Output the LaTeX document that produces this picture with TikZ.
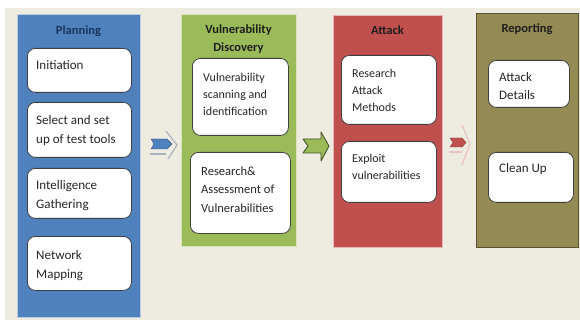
\documentclass[tikz,border=0pt]{standalone}
\usepackage{fontspec}
\setmainfont{Carlito}
\definecolor{bgbeige}{HTML}{EEECE1}
\definecolor{cblue}{HTML}{4F81BD}
\definecolor{cgreen}{HTML}{9BBB59}
\definecolor{cred}{HTML}{C0504D}
\definecolor{colive}{HTML}{948A54}
\definecolor{titleblue}{HTML}{17365D}
\definecolor{titledark}{HTML}{1E1E1E}
\definecolor{boxline}{HTML}{404040}
\newcommand{\tightsp}{\spaceskip=0.23em plus 0.05em\relax}
\begin{document}
\begin{tikzpicture}[x=1pt,y=-1pt,
  column/.style={draw=#1!40!white, line width=1.2pt, fill=#1, anchor=north west, inner sep=0},
  ibox/.style={draw=boxline, line width=0.8pt, fill=white, rounded corners=8pt, anchor=north west, inner sep=0},
  ttl/.style={font=\bfseries\fontsize{12.5}{18}\selectfont, text=titledark, align=center, inner sep=0, anchor=base},
  itxt/.style={font=\fontsize{12.5}{17.5}\selectfont, text=black!85, align=left, text width=95pt, inner sep=0, anchor=base west, execute at begin node=\tightsp},
  ptxt/.style={font=\fontsize{13}{19}\selectfont, text=black!85, align=left, text width=100pt, inner sep=0, anchor=base west, execute at begin node=\tightsp}
]
\useasboundingbox (0,0) rectangle (580,320);
\fill[white] (0,0) rectangle (580,320);
\fill[bgbeige] (5,8) rectangle (580,320);

% columns
\node[column=cblue, minimum width=123pt, minimum height=303pt] (plan) at (17,14) {};
\node[column=cgreen, minimum width=115pt, minimum height=232pt] (vd) at (181,14) {};
\node[column=cred, minimum width=109pt, minimum height=232pt] (att) at (333,15) {};
\node[column=colive, draw=colive!60!black, minimum width=102pt, minimum height=234pt] (rep) at (476,13) {};

% titles
\node[ttl, text=titleblue] (tplan) at (78.5,35) {Planning};
\node[ttl] (tvd) at (238.5,52) {Vulnerability\\Discovery};
\node[ttl] (tatt) at (387.5,35) {Attack};
\node[ttl] (trep) at (527,33) {Reporting};

% planning boxes
\node[ibox, minimum width=104pt, minimum height=44pt] (p1) at (27,48) {};
\node[ibox, minimum width=104pt, minimum height=55pt] (p2) at (27,102) {};
\node[ibox, minimum width=104pt, minimum height=50pt] (p3) at (27,168) {};
\node[ibox, minimum width=104pt, minimum height=54pt] (p4) at (27,236) {};
\node[ptxt] (tp1) at (36,70) {Initiation};
\node[ptxt] (tp2) at (36,125) {Select and set\\up of test tools};
\node[ptxt] (tp3) at (36,190) {Intelligence\\Gathering};
\node[ptxt] (tp4) at (36,259) {Network\\Mapping};

% vulnerability discovery boxes
\node[ibox, minimum width=96pt, minimum height=77pt] (v1) at (192,58) {};
\node[ibox, minimum width=100pt, minimum height=81pt] (v2) at (190,152) {};
\node[itxt, font=\fontsize{12}{17}\selectfont] (tv1) at (203,82) {Vulnerability\\scanning and\\identification};
\node[itxt, font=\fontsize{12.5}{18}\selectfont] (tv2) at (201,176) {Research\&\\Assessment of\\Vulnerabilities};

% attack boxes
\node[ibox, minimum width=95pt, minimum height=69pt] (a1) at (341,55) {};
\node[ibox, minimum width=95pt, minimum height=61pt] (a2) at (341,141) {};
\node[itxt, font=\fontsize{12}{17}\selectfont] (ta1) at (352,78) {Research\\Attack\\Methods};
\node[itxt, font=\fontsize{12}{17}\selectfont] (ta2) at (352,163) {Exploit\\vulnerabilities};

% reporting boxes
\node[ibox, minimum width=81pt, minimum height=47pt] (r1) at (488,60) {};
\node[ibox, minimum width=85pt, minimum height=50pt] (r2) at (488,152) {};
\node[itxt, font=\fontsize{13}{18}\selectfont] (tr1) at (499,82) {Attack\\Details};
\node[itxt, font=\fontsize{13}{18}\selectfont] (tr2) at (499,173) {Clean Up};

% arrow 1 (blue)
\draw[cblue!30!gray!60!white, line width=1.2pt] (166,131) -- (177,145) -- (168,159);
\draw[cblue!30!gray!60!white, line width=1.2pt] (150,154) -- (166,154);
\fill[cblue, draw=cblue!70!black, line width=0.4pt] (151,139) -- (167,139) -- (172,144) -- (167,149) -- (151,149) -- (154,144) -- cycle;

% arrow 2 (green)
\filldraw[fill=cgreen, draw=cgreen!45!black, line width=0.9pt, line join=round]
  (303,139) -- (321,139) -- (321,132) -- (329,146) -- (321,161) -- (321,153) -- (303,153) -- (308,146) -- cycle;

% arrow 3 (red)
\draw[cred!35!white, line width=1.2pt] (462,125) -- (470,144) -- (462,165);
\draw[cred!35!white, line width=1.2pt] (449,152) -- (462,152);
\fill[cred, draw=cred!70!black, line width=0.4pt] (450,138) -- (462,138) -- (466,142.5) -- (462,147) -- (450,147) -- (453,142.5) -- cycle;
\end{tikzpicture}
\end{document}
